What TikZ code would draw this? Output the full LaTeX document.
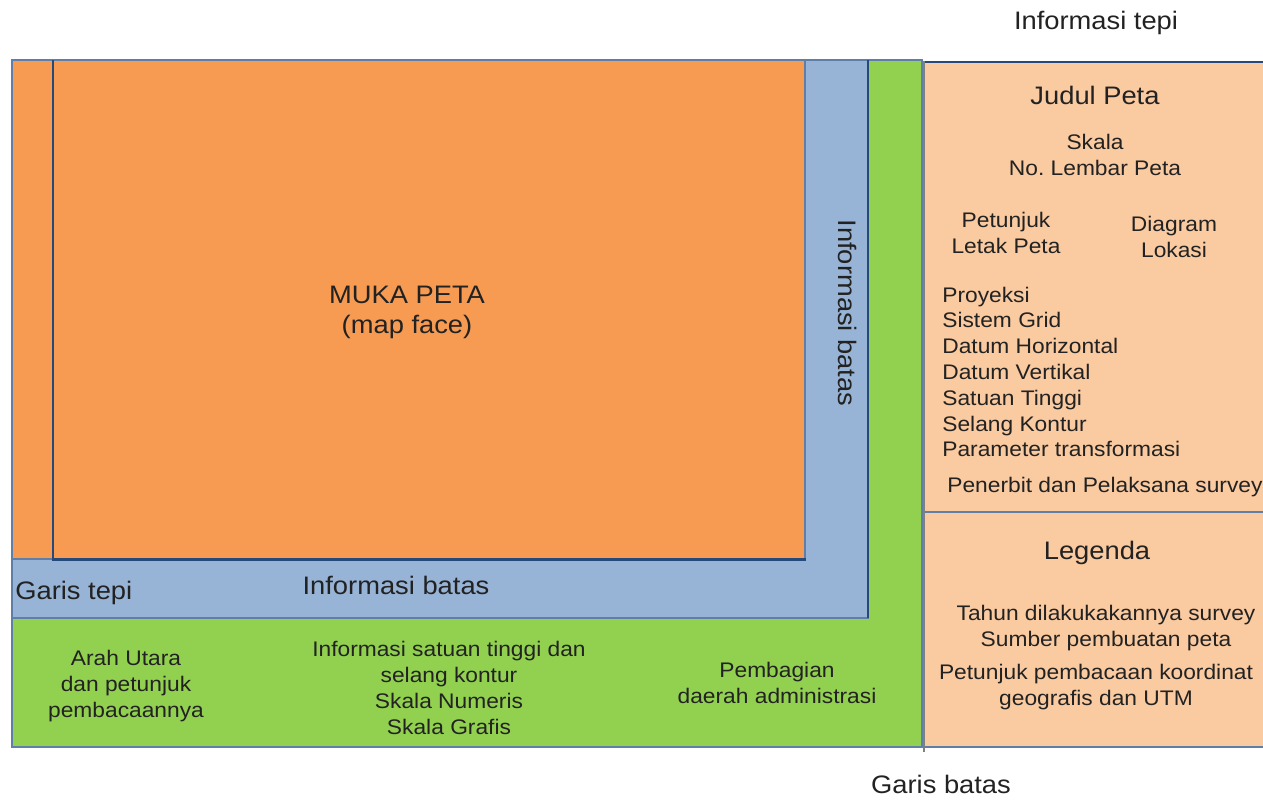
\documentclass[tikz,border=0pt]{standalone}
\usepackage{fontspec}
\setmainfont{Liberation Sans}[FakeStretch=1.08]
\definecolor{mukaorange}{HTML}{F79B53}
\definecolor{batasblue}{HTML}{97B3D5}
\definecolor{tepigreen}{HTML}{92D050}
\definecolor{infopeach}{HTML}{FACAA0}
\definecolor{framenavy}{HTML}{24497A}
\definecolor{edgegray}{HTML}{5F7FA8}
\definecolor{txtgray}{HTML}{222222}

\begin{document}
\begin{tikzpicture}[x=0.02cm, y=-0.02cm]
    \tikzstyle{bigtxt}=[font=\fontsize{14.4}{17}\selectfont, text=txtgray, inner sep=0pt, align=center]
    \tikzstyle{smalltxt}=[font=\fontsize{12}{14.8}\selectfont, text=txtgray, inner sep=0pt, align=center]
    \tikzstyle{thinedge}=[draw=edgegray, line width=0.6pt]

    \useasboundingbox (0,0) rectangle (1263,799);

    % bidang peta
    \path[fill=tepigreen, thinedge] (12,60) rectangle (922,747);
    \path[fill=batasblue, thinedge] (12,60) rectangle (868,618);
    \path[fill=mukaorange, thinedge] (12,60) rectangle (805,559);
    \draw[framenavy, line width=1.7pt] (53,60) -- (53,559) -- (806,559);
    \draw[framenavy, line width=0.9pt] (868,60) -- (868,618);

    % informasi tepi
    \path[fill=infopeach] (924,61) rectangle (1263,747);
    \draw[framenavy, line width=1.5pt] (924,62) -- (1263,62);
    \draw[thinedge] (924,512) -- (1263,512);
    \draw[thinedge] (924,747) -- (1263,747);
    \draw[draw=gray, line width=0.8pt] (924,61) -- (924,752);

    \node[bigtxt, anchor=base] (infotepi) at (1096,29) {Informasi tepi};
    \node[bigtxt, anchor=base] (garisbatas) at (941,793) {Garis batas};
    \node[bigtxt, anchor=base west] (garistepi) at (15,599) {Garis tepi};
    \node[bigtxt, anchor=base] (infobatas) at (396,594) {Informasi batas};
    \node[bigtxt, rotate=-90] (infobatasv) at (848,313) {Informasi batas};
    \node[bigtxt, anchor=base] (mukapeta) at (407,333) {MUKA PETA\\(map face)};

    \node[bigtxt, anchor=base] (judul) at (1095,104) {Judul Peta};
    \node[smalltxt, anchor=base] (skala) at (1095,175) {Skala\\No.\ Lembar Peta};
    \node[smalltxt, anchor=base] (petunjuk) at (1006,253) {Petunjuk\\Letak Peta};
    \node[smalltxt, anchor=base] (diagram) at (1174,257) {Diagram\\Lokasi};
    \foreach \t [count=\i] in {Proyeksi, Sistem Grid, Datum Horizontal, Datum Vertikal,
        Satuan Tinggi, Selang Kontur, Parameter transformasi} {
        \node[smalltxt, anchor=base west] (item\i) at (942, {302+25.8*(\i-1)}) {\t};
    }
    \node[smalltxt, anchor=base west] (penerbit) at (947,492) {Penerbit dan Pelaksana survey};

    \node[bigtxt, anchor=base] (legenda) at (1097,559) {Legenda};
    \node[smalltxt, anchor=base] (tahun) at (1106,646) {Tahun dilakukakannya survey\\Sumber pembuatan peta};
    \node[smalltxt, anchor=base] (koordinat) at (1096,705) {Petunjuk pembacaan koordinat\\geografis dan UTM};

    \node[smalltxt, anchor=base] (arahutara) at (126,717) {Arah Utara\\dan petunjuk\\pembacaannya};
    \node[smalltxt, anchor=base] (skalainfo) at (449,734) {Informasi satuan tinggi dan\\selang kontur\\Skala Numeris\\Skala Grafis};
    \node[smalltxt, anchor=base] (pembagian) at (777,703) {Pembagian\\daerah administrasi};

\end{tikzpicture}
\end{document}
